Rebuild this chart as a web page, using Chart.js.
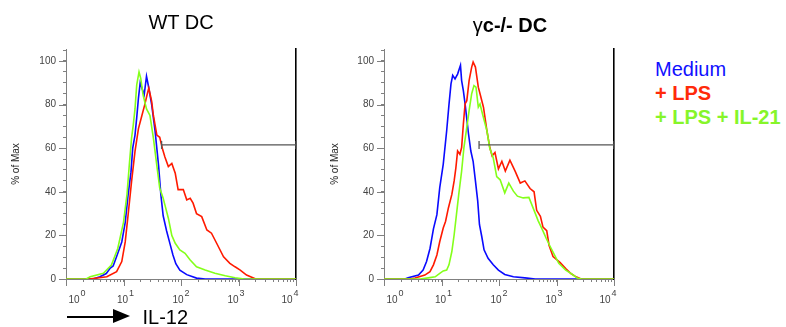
<!DOCTYPE html>
<html>
<head>
<meta charset="utf-8">
<script src="https://cdn.jsdelivr.net/npm/chart.js@4/dist/chart.umd.min.js"></script>
<style>
  html, body { margin: 0; padding: 0; background: #fff; }
  #wrap { position: relative; width: 786px; height: 327px; overflow: hidden; font-family: "Liberation Sans", Arial, sans-serif; }
  canvas { position: absolute; top: 0; }
  .t { position: absolute; white-space: nowrap; line-height: 1; }
</style>
</head>
<body>
<div id="wrap">
  <canvas id="c1" width="310" height="327" style="left:0px"></canvas>
  <canvas id="c2" width="310" height="327" style="left:310px"></canvas>
  <div class="t" style="left:81px;width:200px;text-align:center;top:11.5px;font-size:20px;color:#000">WT DC</div>
  <div class="t" style="left:410px;width:200px;text-align:center;top:15px;font-size:20px;font-weight:bold;color:#000"><span style="font-weight:normal">γ</span>c-/- DC</div>
  <div class="t" style="left:655px;top:59px;font-size:20px;color:#1010ff">Medium</div>
  <div class="t" style="left:655px;top:82.5px;font-size:20px;font-weight:bold;color:#ff2a0a">+ LPS</div>
  <div class="t" style="left:655px;top:107px;font-size:20px;font-weight:bold;color:#86f52a">+ LPS + IL-21</div>
  <div style="position:absolute;left:67px;top:315.5px;width:48px;height:2.5px;background:#000"></div>
  <div style="position:absolute;left:113px;top:309px;width:0;height:0;border-top:7.5px solid transparent;border-bottom:7.5px solid transparent;border-left:17px solid #000"></div>
  <div class="t" style="left:142.5px;top:306.5px;font-size:20px;color:#000">IL-12</div>
</div>
<script>
// ---- axis definitions ----
const decadeTicks = [1, 10, 100, 1000, 10000];
const decadeExps = ['0', '1', '2', '3', '4'];
const minorSignificands = [2, 3, 4, 5, 6, 7, 8, 9];
const pctTicks = [0, 20, 40, 60, 80, 100];
const seriesNames = ['Medium', '+ LPS', '+ LPS + IL-21'];

// ---- gate (marker bar) ----
const gateLevel = 61.5;
const wtGateStart = 46;
const gcGateStart = 45;

// ---- WT DC histograms: [log10(IL-12), % of Max] ----
const wtMedium = [[0,0],[0.47,0],[0.59,1],[0.70,2.5],[0.77,5],[0.82,6],[0.89,11],[0.97,17],[1.03,26],[1.08,38.6],[1.13,49],[1.16,60],[1.20,66],[1.23,74],[1.26,83],[1.29,90],[1.32,87.6],[1.36,84.5],[1.40,93],[1.43,89],[1.49,80],[1.55,67.7],[1.61,52],[1.65,38.6],[1.69,29],[1.75,22],[1.81,16],[1.86,11],[1.91,7],[1.98,4],[2.10,2],[2.27,0.4],[2.42,0],[4,0]];
const wtLPS = [[0,0],[0.40,0],[0.71,1],[0.88,3.4],[0.97,8],[1.03,17],[1.08,29.4],[1.14,44.7],[1.20,58.5],[1.26,69],[1.32,75],[1.37,80],[1.41,84.5],[1.44,87.6],[1.49,81.5],[1.52,75],[1.58,66],[1.63,65],[1.675,60],[1.72,56],[1.78,51.6],[1.84,53],[1.90,48.5],[1.95,41],[2.04,41],[2.10,36.3],[2.16,37],[2.21,34.8],[2.27,30],[2.36,28.6],[2.45,22.5],[2.53,21],[2.62,16.4],[2.74,10.2],[2.85,7.2],[2.94,5.6],[3.03,4.1],[3.14,1.8],[3.23,0.8],[3.3,0],[4,0]];
const wtLPSIL21 = [[0,0],[0.35,0],[0.42,1],[0.65,2.6],[0.79,6.4],[0.90,14],[1.00,26],[1.06,38.6],[1.10,52],[1.14,64.6],[1.17,70.7],[1.20,78],[1.23,89],[1.27,95],[1.30,92],[1.34,84.5],[1.40,78],[1.46,75],[1.52,64.6],[1.58,52],[1.63,41.7],[1.69,37],[1.72,34],[1.78,27.9],[1.84,20],[1.90,16.4],[1.98,13.3],[2.07,11.8],[2.16,8.7],[2.27,5.6],[2.42,4.1],[2.59,2.6],[2.77,1.5],[2.94,0.6],[3.1,0],[4,0]];

// ---- gamma-c-/- DC histograms ----
const gcMedium = [[0,0],[0.365,0],[0.42,0.6],[0.60,1.8],[0.68,4.1],[0.74,8],[0.80,14],[0.86,23],[0.92,29.5],[0.97,42],[1.03,52.6],[1.09,68],[1.13,80],[1.165,89.5],[1.195,93.4],[1.235,91.8],[1.28,94],[1.33,98],[1.35,91],[1.38,86.4],[1.41,80.3],[1.47,66.5],[1.51,58.7],[1.55,54],[1.59,45],[1.63,35.7],[1.66,25],[1.70,19.5],[1.74,13.4],[1.81,9.5],[1.90,6.5],[1.99,4.1],[2.10,2.1],[2.25,1],[2.45,0.5],[2.63,0],[4,0]];
const gcLPS = [[0,0],[0.45,0],[0.54,0.5],[0.71,1.8],[0.80,3.4],[0.86,6.5],[0.92,11],[0.97,17.2],[1.03,23.4],[1.07,26.4],[1.12,32.6],[1.18,38.8],[1.22,45],[1.25,51],[1.28,58.7],[1.32,57.2],[1.35,60.3],[1.38,71],[1.41,80.3],[1.44,81.8],[1.48,91],[1.525,97.2],[1.55,99.5],[1.59,97.2],[1.64,88],[1.67,85],[1.73,78.8],[1.79,68],[1.84,60.3],[1.88,56.5],[1.93,58],[1.99,50.5],[2.05,54],[2.11,49.5],[2.19,54.5],[2.28,49.5],[2.37,44],[2.45,45],[2.54,41.5],[2.61,40],[2.655,31.5],[2.72,28.8],[2.765,23.8],[2.83,22.2],[2.87,15.5],[2.94,10.3],[3.06,7.6],[3.165,4.7],[3.25,2.5],[3.34,1],[3.43,0],[4,0]];
const gcLPSIL21 = [[0,0],[0.63,0],[0.77,0.5],[0.89,1],[0.97,2.6],[1.03,3.7],[1.09,4.1],[1.13,6.5],[1.18,12.6],[1.22,20.3],[1.26,29.5],[1.30,38.8],[1.35,49.5],[1.39,60.3],[1.44,69.5],[1.48,77.2],[1.525,85],[1.565,88.7],[1.60,88],[1.64,78.8],[1.67,80.3],[1.71,76],[1.76,71],[1.79,68],[1.84,60],[1.90,55.5],[1.96,47],[2.02,45.5],[2.10,39.5],[2.17,44],[2.25,40.3],[2.32,38],[2.42,37.2],[2.52,37.4],[2.61,31.5],[2.68,26.8],[2.76,22.3],[2.82,18.7],[2.89,14.9],[2.94,12.3],[3.04,7.2],[3.16,4.1],[3.25,2.6],[3.36,0.5],[3.43,0],[4,0]];

const COLORS = { medium: '#0a0aff', lps: '#ff1a00', il21: '#84ff1a' };
const FONT = '"Liberation Sans", Arial, sans-serif';

function toPoints(series) { return series.map(([e, v]) => ({ x: Math.pow(10, e), y: v })); }

function buildLogTicks(scale) {
  const list = [];
  for (let i = 0; i < decadeTicks.length - 1; i++) {
    list.push({ value: decadeTicks[i], major: true });
    minorSignificands.forEach(s => list.push({ value: decadeTicks[i] * s, major: false }));
  }
  list.push({ value: decadeTicks[decadeTicks.length - 1], major: true });
  scale.ticks = list;
}

const axisDecor = {
  id: 'axisDecor',
  afterDraw(chart, args, opts) {
    const { ctx, chartArea: a, scales: { x, y } } = chart;
    ctx.save();
    ctx.strokeStyle = '#808080';
    ctx.lineWidth = 1;
    ctx.beginPath();
    decadeTicks.forEach(v => {
      const px = Math.round(x.getPixelForValue(v)) + 0.5;
      ctx.moveTo(px, a.bottom); ctx.lineTo(px, a.bottom + 7);
    });
    pctTicks.forEach(v => {
      const py = Math.round(y.getPixelForValue(v)) + 0.5;
      ctx.moveTo(a.left - 7, py); ctx.lineTo(a.left, py);
    });
    ctx.stroke();
    ctx.fillStyle = '#444';
    ctx.textBaseline = 'alphabetic';
    ctx.textAlign = 'left';
    decadeTicks.forEach((v, i) => {
      const cx = x.getPixelForValue(v) + opts.labelShift[i];
      ctx.font = '10px ' + FONT;
      const w1 = ctx.measureText('10').width;
      ctx.font = '9px ' + FONT;
      const w2 = ctx.measureText(decadeExps[i]).width;
      const s = cx - (w1 + w2 + 1) / 2;
      ctx.font = '10px ' + FONT;
      ctx.fillText('10', s, a.bottom + 24);
      ctx.font = '9px ' + FONT;
      ctx.fillText(decadeExps[i], s + w1 + 1, a.bottom + 17);
    });
    ctx.restore();
  }
};

function makeChart(id, medium, lps, il21, gateStart, yAxisWidth, padRight, titlePad) {
  const lineDs = (label, series, color) => ({
    label, data: toPoints(series), borderColor: color, borderWidth: 1.6,
    pointRadius: 0, tension: 0, fill: false
  });
  return new Chart(document.getElementById(id), {
    type: 'line',
    data: {
      datasets: [
        {
          label: 'gate', data: [{ x: gateStart, y: gateLevel }, { x: decadeTicks[4], y: gateLevel }],
          borderColor: '#555', borderWidth: 1.3, pointStyle: 'line', pointRotation: 90,
          pointRadius: 4, pointBorderColor: '#555', pointBorderWidth: 1.3, clip: false
        },
        lineDs(seriesNames[2], il21, COLORS.il21),
        lineDs(seriesNames[1], lps, COLORS.lps),
        lineDs(seriesNames[0], medium, COLORS.medium)
      ]
    },
    options: {
      responsive: false, animation: false, devicePixelRatio: 1,
      layout: { padding: { top: 49, right: padRight, bottom: 0, left: 0 } },
      plugins: { legend: { display: false }, tooltip: { enabled: false }, axisDecor: { labelShift: [11, 2, 0, -2.5, -6] } },
      scales: {
        x: {
          type: 'logarithmic', min: decadeTicks[0], max: decadeTicks[4],
          afterBuildTicks: buildLogTicks,
          afterFit: s => { s.height = 48; },
          grid: { drawOnChartArea: false, color: '#808080', tickLength: 3 },
          border: { color: '#808080', width: 1 },
          ticks: { autoSkip: false, maxRotation: 0, callback: () => '', padding: 0 }
        },
        y: {
          type: 'linear', min: 0, max: 105.5,
          afterFit: s => { s.width = yAxisWidth; },
          grid: { drawOnChartArea: false, color: '#808080', tickLength: 3 },
          border: { color: '#808080', width: 1 },
          ticks: {
            stepSize: 5, includeBounds: false, autoSkip: false, padding: 7, color: '#444',
            font: { family: FONT, size: 10 },
            callback: v => pctTicks.includes(v) ? String(v) : ''
          },
          title: { display: true, text: '% of Max', color: '#222', font: { family: FONT, size: 10 }, padding: { top: titlePad, bottom: 0 } }
        },
        y2: {
          type: 'linear', position: 'right', display: true,
          afterFit: s => { s.width = 0; },
          grid: { drawOnChartArea: false, drawTicks: false },
          border: { color: '#000', width: 1.6 },
          ticks: { display: false }
        }
      }
    },
    plugins: [axisDecor]
  });
}

makeChart('c1', wtMedium, wtLPS, wtLPSIL21, wtGateStart, 66, 14, 10);
makeChart('c2', gcMedium, gcLPS, gcLPSIL21, gcGateStart, 74, 6, 19);
</script>
</body>
</html>
